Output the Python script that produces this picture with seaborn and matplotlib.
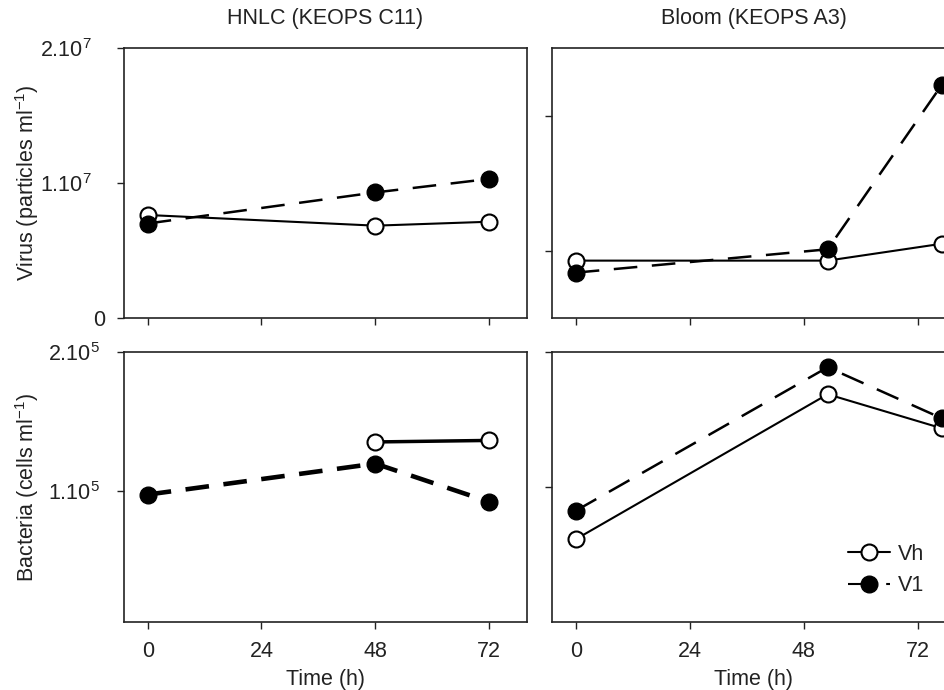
import numpy as np
import matplotlib
matplotlib.use("Agg")
import matplotlib.pyplot as plt
import seaborn as sns
from matplotlib.lines import Line2D

# Sampling times (h)
hours_hnlc = [0, 48, 72]
hours_bloom = [0, 53, 77]

# Virus abundance (particles ml-1)
virus_hnlc_vh = [7.63e6, 6.84e6, 7.13e6]
virus_hnlc_v1 = [7.00e6, 9.30e6, 1.03e7]
virus_bloom_vh = [4.25e6, 4.25e6, 5.50e6]
virus_bloom_v1 = [3.36e6, 5.09e6, 1.726e7]

# Bacterial abundance (cells ml-1)
bact_hnlc_vh = [np.nan, 1.352e5, 1.363e5]
bact_hnlc_v1 = [0.973e5, 1.196e5, 0.921e5]
bact_bloom_vh = [0.613e5, 1.687e5, 1.435e5]
bact_bloom_v1 = [0.824e5, 1.887e5, 1.509e5]

panel_titles = ["HNLC (KEOPS C11)", "Bloom (KEOPS A3)"]
series_names = ["Vh", "V1"]
time_ticks = [0, 24, 48, 72]
virus_ticks = [1e7, 2e7]
virus_ticklabels = ["1.10$^{7}$", "2.10$^{7}$"]
virus_zero = [0]
virus_zero_label = ["0"]
bact_ticks = [1e5, 2e5]
bact_ticklabels = ["1.10$^{5}$", "2.10$^{5}$"]

sns.set_style("ticks")
plt.rcParams["font.family"] = ["Liberation Sans", "DejaVu Sans"]
plt.rcParams["mathtext.fontset"] = "custom"
plt.rcParams["mathtext.rm"] = "Liberation Sans"
plt.rcParams["mathtext.default"] = "regular"
FS = 15.5
INK = "#222222"

fig = plt.figure(figsize=(9.45, 6.90), dpi=100)
W, H = 945.0, 690.0


def axes_px(x0, y0, x1, y1):
    return fig.add_axes([x0 / W, 1 - y1 / H, (x1 - x0) / W, (y1 - y0) / H])


ax_tl = axes_px(124, 48, 527, 318)
ax_tr = axes_px(552, 48, 956, 318)
ax_bl = axes_px(124, 352, 527, 622)
ax_br = axes_px(552, 352, 956, 622)


def dash(lw):
    # long dashes of a fixed on/off length in points
    return (0, (17.0 / lw, 10.5 / lw))


def draw(ax, hours, vh, v1, lw_vh=1.5, lw_v1=1.8):
    sns.lineplot(x=hours, y=vh, ax=ax, color="black", lw=lw_vh,
                 marker="o", ms=11.5, mfc="white", mec="black", mew=1.5,
                 estimator=None, errorbar=None, sort=False, legend=False)
    sns.lineplot(x=hours, y=v1, ax=ax, color="black", lw=lw_v1,
                 linestyle=dash(lw_v1),
                 marker="o", ms=12, mfc="black", mec="black", mew=1.0,
                 estimator=None, errorbar=None, sort=False, legend=False)


draw(ax_tl, hours_hnlc, virus_hnlc_vh, virus_hnlc_v1)
draw(ax_tr, hours_bloom, virus_bloom_vh, virus_bloom_v1)
draw(ax_bl, hours_hnlc, bact_hnlc_vh, bact_hnlc_v1, lw_vh=2.5, lw_v1=3.3)
draw(ax_br, hours_bloom, bact_bloom_vh, bact_bloom_v1)

for ax in (ax_tl, ax_tr, ax_bl, ax_br):
    ax.set_xlim(-5, 80)
    ax.set_xticks(time_ticks)
    ax.set_xlabel("")
    ax.set_ylabel("")
    for s in ax.spines.values():
        s.set_color(INK)
        s.set_linewidth(1.2)
    ax.tick_params(which="both", direction="out", length=5, width=1.0,
                   color=INK, labelsize=FS, labelcolor=INK, pad=8.5)

# virus row
ax_tl.set_ylim(0, 2e7)
ax_tl.set_yticks(virus_ticks)
ax_tl.set_yticklabels(virus_ticklabels)
ax_tl.set_yticks(virus_zero, minor=True)
ax_tl.set_yticklabels(virus_zero_label, minor=True)
ax_tl.tick_params(axis="y", which="major", pad=18.5)
ax_tl.tick_params(axis="y", which="minor", pad=8.5)
ax_tr.set_ylim(0, 2e7)
ax_tr.set_yticks([0.5e7, 1.5e7])
ax_tr.set_yticklabels([])
for ax in (ax_tl, ax_tr):
    ax.set_xticklabels([])

# bacteria row
ax_bl.set_ylim(0.055e5, 2e5)
ax_bl.set_yticks(bact_ticks)
ax_bl.set_yticklabels(bact_ticklabels)
ax_bl.tick_params(axis="y", pad=12.5)
ax_br.set_ylim(0, 2e5)
ax_br.set_yticks([1e5, 2e5])
ax_br.set_yticklabels([])
for ax in (ax_bl, ax_br):
    ax.set_xticklabels([str(t) for t in time_ticks])
    ax.set_xlabel("Time (h)", fontsize=FS, color=INK, labelpad=5)

ax_tl.set_title(panel_titles[0], fontsize=FS, color=INK, pad=17)
ax_tr.set_title(panel_titles[1], fontsize=FS, color=INK, pad=17)

ax_tl.set_ylabel("Virus (particles ml$^{-1}$)", fontsize=FS, color=INK)
ax_bl.set_ylabel("Bacteria (cells ml$^{-1}$)", fontsize=FS, color=INK)
ax_tl.yaxis.set_label_coords(-0.205, 0.5)
ax_bl.yaxis.set_label_coords(-0.205, 0.5)

handles = [
    Line2D([], [], color="black", lw=1.5, marker="o", ms=11.5,
           mfc="white", mec="black", mew=1.5),
    Line2D([], [], color="black", lw=1.5, linestyle=dash(1.5), marker="o",
           ms=12, mfc="black", mec="black", mew=1.0),
]
ax_br.legend(handles, series_names, loc="upper left",
             bbox_to_anchor=(0.733, 0.29), frameon=False, borderpad=0,
             borderaxespad=0, handlelength=1.95, handletextpad=0.35,
             labelspacing=0.5, fontsize=FS, labelcolor=INK)

fig.savefig("out.png", dpi=100)
